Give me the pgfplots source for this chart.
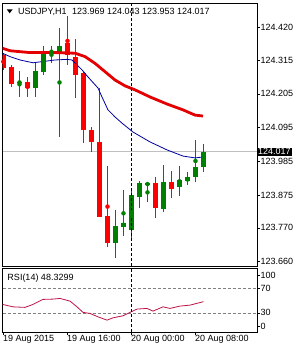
\documentclass[border=0pt]{standalone}
\usepackage{pgfplots}
\pgfplotsset{compat=1.18}
\usepackage{pgfplotstable}
\usepackage{fontspec}
\setmainfont{Liberation Sans}
\definecolor{bullc}{RGB}{0,128,0}
\definecolor{bearc}{RGB}{255,0,0}
\definecolor{maslow}{RGB}{228,0,0}
\definecolor{mafast}{RGB}{0,0,160}
\definecolor{rsic}{RGB}{190,20,70}
\definecolor{pline}{RGB}{192,192,192}

\pgfplotstableread{
i O H L C
2 124.239 124.279 124.195 124.245
4 124.223 124.305 124.195 124.279
5 124.277 124.361 124.266 124.338
6 124.340 124.361 124.305 124.345
7 124.339 124.419 124.065 124.361
14 123.721 123.828 123.672 123.776
15 123.773 123.893 123.744 123.786
16 123.766 123.896 123.737 123.877
17 123.870 123.922 123.834 123.916
18 123.909 123.916 123.854 123.916
20 123.834 123.974 123.821 123.919
22 123.903 123.971 123.873 123.925
23 123.922 123.951 123.909 123.935
24 123.935 124.055 123.919 123.968
25 123.969 124.043 123.953 124.017
}\bulltab

\pgfplotstableread{
i O H L C
0 124.331 124.338 124.283 124.289
1 124.293 124.299 124.227 124.239
3 124.245 124.261 124.195 124.223
8 124.369 124.458 124.299 124.331
9 124.325 124.383 124.192 124.266
10 124.273 124.276 124.046 124.088
11 124.088 124.098 124.016 124.049
12 124.049 124.224 123.805 123.805
13 123.808 123.971 123.708 123.721
19 123.916 123.935 123.802 123.834
21 123.919 123.955 123.867 123.896
}\beartab

\begin{document}
\begin{tikzpicture}[x=1bp,y=1bp]
\path[use as bounding box] (0,0) rectangle (300,-350);
\begin{axis}[
  at={(2.5bp,-266bp)}, anchor=south west,
  scale only axis, width=254.5bp, height=263bp,
  xmin=-0.125, xmax=31.69, ymin=123.646, ymax=124.500,
  axis line style={black, line width=0.8bp},
  xtick=\empty,
  ytick={123.660,123.770,123.875,123.985,124.095,124.205,124.315,124.420},
  yticklabels={123.660,123.770,123.875,123.985,124.095,124.205,124.315,124.420},
  ytick pos=right, yticklabel pos=right,
  tick align=outside, major tick length=2.5bp,
  tick style={black, line width=0.6bp},
  tick label style={font=\fontsize{9bp}{10bp}\selectfont, inner sep=1bp},
  extra y ticks={124.017}, extra y tick labels={124.017},
  extra y tick style={grid=major, major grid style={pline, line width=0.7bp},
     major tick length=0pt, tick label style={fill=black, text=white, inner sep=1bp}},
]
\addplot[bearc, only marks, mark=none, forget plot,
  error bars/.cd, y dir=both, y explicit, error mark=none,
  error bar style={bearc, line width=1bp, solid}]
  table[x=i, y expr={(\thisrow{H}+\thisrow{L})/2}, y error expr={(\thisrow{H}-\thisrow{L})/2}] {\beartab};
\addplot[bearc, only marks, mark=none, forget plot,
  error bars/.cd, y dir=both, y explicit, error mark=none,
  error bar style={bearc, line width=5bp, solid}]
  table[x=i, y expr={(\thisrow{O}+\thisrow{C})/2}, y error expr={abs(\thisrow{O}-\thisrow{C})/2}] {\beartab};
\addplot[bullc, only marks, mark=none, forget plot,
  error bars/.cd, y dir=both, y explicit, error mark=none,
  error bar style={bullc, line width=1bp, solid}]
  table[x=i, y expr={(\thisrow{H}+\thisrow{L})/2}, y error expr={(\thisrow{H}-\thisrow{L})/2}] {\bulltab};
\addplot[bullc, only marks, mark=none, forget plot,
  error bars/.cd, y dir=both, y explicit, error mark=none,
  error bar style={bullc, line width=5bp, solid}]
  table[x=i, y expr={(\thisrow{O}+\thisrow{C})/2}, y error expr={abs(\thisrow{O}-\thisrow{C})/2}] {\bulltab};
% slow MA
\addplot[maslow, line width=2.8bp, mark=none] coordinates {
(-0.125,124.353) (0.81,124.345) (3.31,124.339) (6.44,124.339) (8.94,124.337)
(10.19,124.326) (11.44,124.304) (12.69,124.277) (13.94,124.250) (15.19,124.231)
(16.44,124.218) (18.31,124.195) (20.44,124.172) (22.44,124.153) (23.94,124.136) (24.94,124.133)};
% fast MA
\addplot[mafast, line width=0.8bp, mark=none] coordinates {
(-0.125,124.337) (0.81,124.326) (2.06,124.315) (3.69,124.306) (4.94,124.310)
(6.44,124.315) (7.94,124.317) (8.56,124.315) (8.94,124.305) (9.81,124.283)
(10.56,124.260) (11.81,124.224) (12.31,124.195) (13.06,124.153) (13.94,124.130)
(14.81,124.110) (16.19,124.081) (18.31,124.049) (20.44,124.023) (22.44,124.003)
(23.94,123.997) (24.94,124.000)};
\addplot[black, line width=0.8bp, dash pattern=on 3bp off 2bp] coordinates {(16,123.646) (16,124.500)};
\end{axis}

\begin{axis}[
  at={(2.5bp,-332bp)}, anchor=south west,
  scale only axis, width=254.5bp, height=64bp,
  xmin=-0.125, xmax=31.69, ymin=-1.5, ymax=103.5,
  axis line style={black, line width=0.8bp},
  ytick={8.2,30,70,91.8}, yticklabels={0,30,70,100},
  ytick pos=right, yticklabel pos=right,
  xtick={0,8,16,24},
  xticklabels={19 Aug 2015,19 Aug 16:00,20 Aug 00:00,20 Aug 08:00},
  xtick pos=bottom,
  tick align=outside, major tick length=2.5bp,
  tick style={black, line width=0.6bp},
  tick label style={font=\fontsize{9bp}{10bp}\selectfont, inner sep=1bp},
  xticklabel style={anchor=north west, xshift=-1.5bp},
]
\addplot[gray, line width=0.6bp, dash pattern=on 3bp off 2bp] coordinates {(-0.125,70) (31.69,70)};
\addplot[gray, line width=0.6bp, dash pattern=on 3bp off 2bp] coordinates {(-0.125,30) (31.69,30)};
\addplot[rsic, line width=0.8bp, mark=none] coordinates {
(-0.125,43.8) (1.19,39.8) (2.69,38.9) (3.69,43.8) (4.94,52.0) (6.19,52.5)
(7.06,53.6) (8.31,49.2) (9.19,39.8) (9.94,30.7) (10.81,29.0) (11.81,23.4)
(12.94,18.0) (13.69,21.8) (14.94,25.1) (15.81,30.7) (16.69,36.1) (17.94,37.2)
(18.69,32.8) (19.94,39.8) (20.81,37.2) (22.06,41.0) (23.31,42.6) (25,48.3)};
\addplot[black, line width=0.8bp, dash pattern=on 3bp off 2bp] coordinates {(16,-1.5) (16,103.5)};
\end{axis}

\fill[black] (6.7,-9.3) -- (12.7,-9.3) -- (9.7,-13.3) -- cycle;
\node[anchor=base west, inner sep=0pt, font=\fontsize{9bp}{10bp}\selectfont] at (18,-14.3)
  {USDJPY,H1\hspace{5.5bp}123.969 124.043 123.953 124.017};
\node[anchor=base west, inner sep=0pt, font=\fontsize{9bp}{10bp}\selectfont] at (7.3,-280.3)
  {RSI(14) 48.3299};
\end{tikzpicture}
\end{document}
